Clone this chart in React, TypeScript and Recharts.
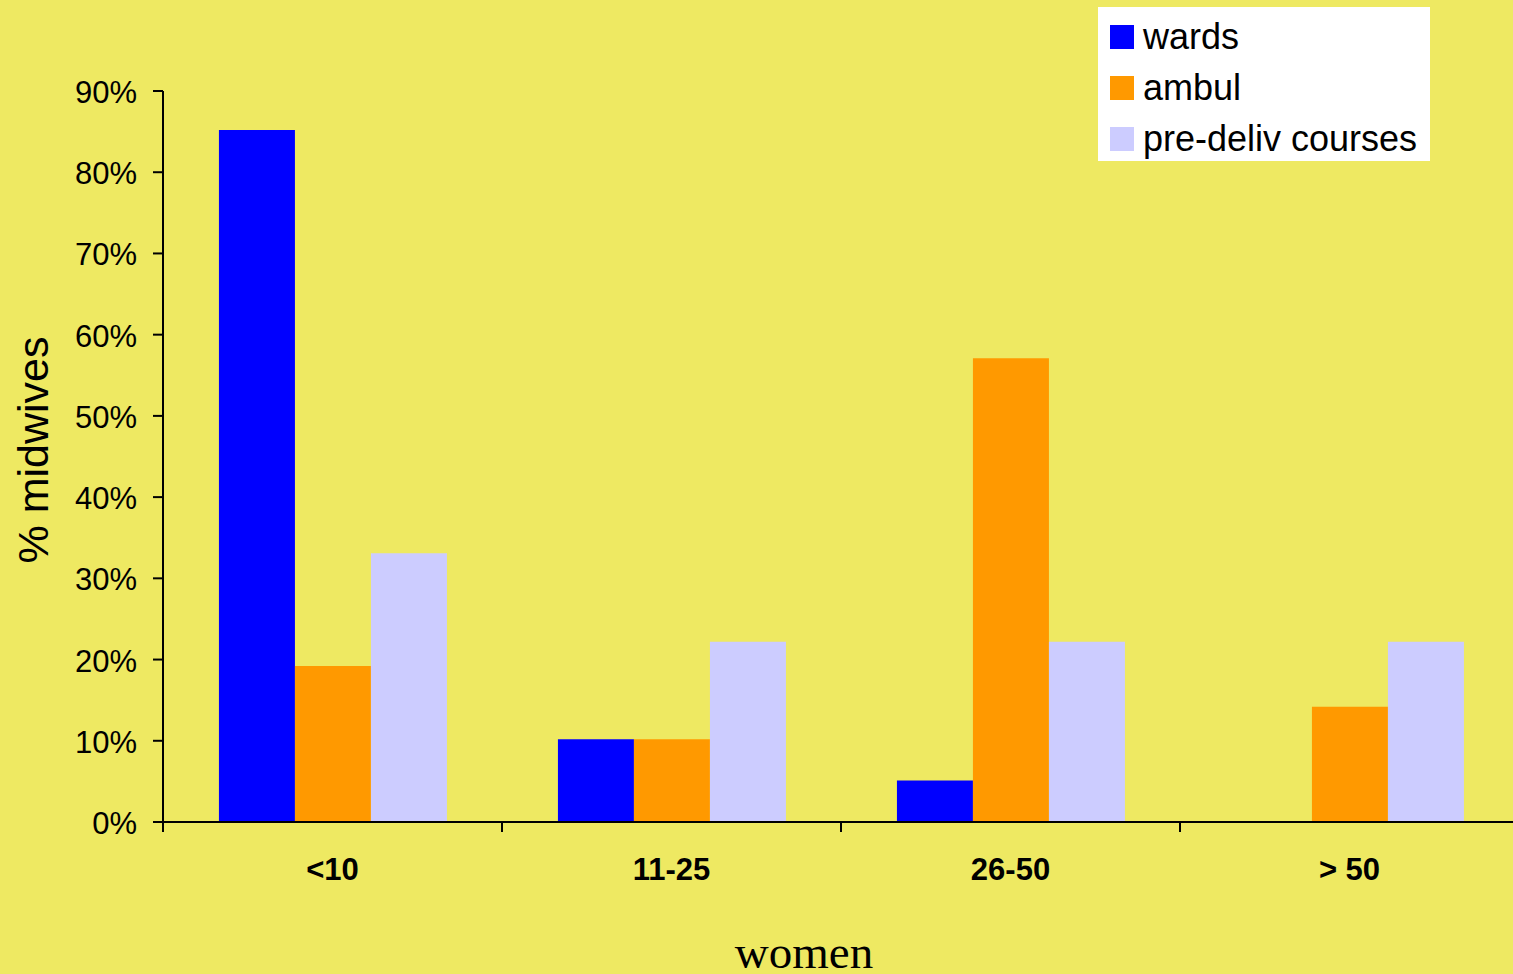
import React from "react";
import { BarChart, Bar, XAxis, YAxis, Label } from "recharts";

const categories = ["<10", "11-25", "26-50", "> 50"];
const wards = [85.2, 10.2, 5.1, 0];
const ambul = [19.2, 10.2, 57.1, 14.2];
const preDeliv = [33.1, 22.2, 22.2, 22.2];
const yTicks = [0, 10, 20, 30, 40, 50, 60, 70, 80, 90];

const seriesInfo = [
  { key: "wards", name: "wards", color: "#0000FF" },
  { key: "ambul", name: "ambul", color: "#FF9900" },
  { key: "pre", name: "pre-deliv courses", color: "#CCCCFF" },
];

const data = categories.map((c, i) => ({
  name: c,
  wards: wards[i],
  ambul: ambul[i],
  pre: preDeliv[i],
}));

const FONT = "'Liberation Sans', Arial, sans-serif";
const CHART_W = 1520;
const Y_AXIS_W = 163;
const RIGHT = 1;
const X_TICK_MARGIN = 12;
const HALF_BAND = (CHART_W - Y_AXIS_W - RIGHT) / categories.length / 2;

// tick marks sit between categories, labels in the middle
const XTick = (props: any) => {
  const { x, y, payload } = props;
  const axisY = y - X_TICK_MARGIN;
  return (
    <g>
      <line x1={x - HALF_BAND} x2={x - HALF_BAND} y1={axisY} y2={axisY + 10} stroke="#000" strokeWidth={2} />
      <text x={x} y={axisY} dy={58} textAnchor="middle" fontFamily={FONT} fontWeight="bold" fontSize={31} fill="#000">
        {payload.value}
      </text>
    </g>
  );
};

const YTick = (props: any) => {
  const { x, y, payload } = props;
  return (
    <text x={x} y={y} dy={12} textAnchor="end" fontFamily={FONT} fontSize={31} fill="#000">
      {payload.value}%
    </text>
  );
};

const LegendBox = () => (
  <div style={{ position: "absolute", left: 1098, top: 7, width: 332, height: 154, background: "#fff" }}>
    {seriesInfo.map((s, i) => (
      <div key={s.key} style={{ position: "absolute", left: 12, top: 18 + i * 51, display: "flex", alignItems: "center" }}>
        <div style={{ width: 24, height: 24, background: s.color }} />
        <span style={{ marginLeft: 9, fontFamily: FONT, fontSize: 36, lineHeight: "24px", color: "#000", whiteSpace: "nowrap" }}>
          {s.name}
        </span>
      </div>
    ))}
  </div>
);

const App = () => {
  return (
    <div style={{ position: "absolute", left: 0, top: 0, width: 1513, height: 974, overflow: "hidden", background: "#EEE962" }}>
      <BarChart
        width={CHART_W}
        height={974}
        data={data}
        margin={{ top: 91, right: RIGHT, left: 0, bottom: 0 }}
        barCategoryGap="16.5%"
        barGap={0}
      >
        <XAxis
          dataKey="name"
          height={152}
          stroke="#000"
          strokeWidth={2}
          tickSize={0}
          tickMargin={X_TICK_MARGIN}
          tickLine={false}
          tick={<XTick />}
          interval={0}
        >
          <Label
            content={() => (
              <text x={804} y={968} textAnchor="middle" fontFamily="'Liberation Serif', 'Times New Roman', serif" fontSize={47} fill="#000">
                women
              </text>
            )}
          />
        </XAxis>
        <YAxis
          width={Y_AXIS_W}
          domain={[0, 90]}
          ticks={yTicks}
          interval={0}
          stroke="#000"
          strokeWidth={2}
          tickSize={10}
          tickMargin={16}
          tick={<YTick />}
        >
          <Label
            content={() => (
              <text transform="translate(48,450) rotate(-90)" textAnchor="middle" fontFamily={FONT} fontSize={43} fill="#000">
                % midwives
              </text>
            )}
          />
        </YAxis>
        {seriesInfo.map((s) => (
          <Bar key={s.key} dataKey={s.key} name={s.name} fill={s.color} isAnimationActive={false} />
        ))}
      </BarChart>
      <LegendBox />
    </div>
  );
};

export default App;
